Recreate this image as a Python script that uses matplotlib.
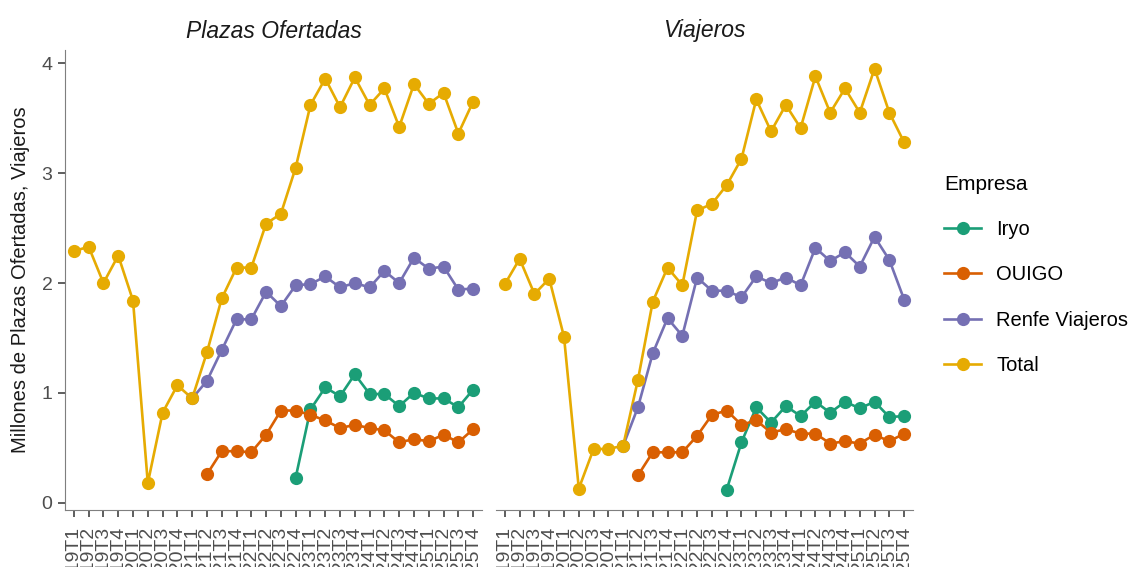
import matplotlib.pyplot as plt
from matplotlib.lines import Line2D
import numpy as np

plt.rcParams['font.family'] = ['Liberation Sans', 'DejaVu Sans']

# trimestres 2019T1 .. 2025T4
quarters = [f"{y}T{q}" for y in range(2019, 2026) for q in range(1, 5)]
empresas = ['Iryo', 'OUIGO', 'Renfe Viajeros', 'Total']
colors = ['#1B9E77', '#D95F02', '#7570B3', '#E6AB02']
na = np.nan

# Millones de plazas ofertadas
iryo_plazas = [na] * 15 + [0.23, 0.85, 1.05, 0.97, 1.17, 0.99, 0.99, 0.88, 1.00, 0.95, 0.95, 0.87, 1.03]
ouigo_plazas = [na] * 9 + [0.26, 0.47, 0.47, 0.46, 0.62, 0.84, 0.84, 0.80, 0.75, 0.68, 0.71, 0.68, 0.66,
                           0.55, 0.58, 0.56, 0.62, 0.55, 0.67]
renfe_plazas = [na] * 8 + [0.95, 1.11, 1.39, 1.67, 1.67, 1.92, 1.79, 1.98, 1.99, 2.06, 1.96, 2.00, 1.96,
                           2.11, 2.00, 2.23, 2.13, 2.15, 1.94, 1.95]
total_plazas = [2.29, 2.33, 2.00, 2.25, 1.84, 0.18, 0.82, 1.07, 0.95, 1.37, 1.86, 2.14, 2.14, 2.54,
                2.63, 3.05, 3.62, 3.86, 3.60, 3.87, 3.62, 3.77, 3.42, 3.81, 3.63, 3.73, 3.36, 3.65]

# Millones de viajeros
iryo_viaj = [na] * 15 + [0.12, 0.55, 0.87, 0.73, 0.88, 0.79, 0.92, 0.82, 0.92, 0.86, 0.92, 0.78, 0.79]
ouigo_viaj = [na] * 9 + [0.25, 0.46, 0.46, 0.46, 0.61, 0.80, 0.84, 0.71, 0.75, 0.64, 0.67, 0.63, 0.63,
                         0.54, 0.56, 0.54, 0.62, 0.56, 0.63]
renfe_viaj = [na] * 8 + [0.52, 0.87, 1.36, 1.68, 1.52, 2.05, 1.93, 1.93, 1.87, 2.06, 2.00, 2.05, 1.98,
                         2.32, 2.20, 2.28, 2.15, 2.42, 2.21, 1.85]
total_viaj = [1.99, 2.22, 1.90, 2.04, 1.51, 0.13, 0.49, 0.49, 0.52, 1.12, 1.83, 2.14, 1.98, 2.66,
              2.72, 2.89, 3.13, 3.67, 3.38, 3.62, 3.41, 3.88, 3.55, 3.77, 3.55, 3.95, 3.55, 3.28]

panels = [
    ('Plazas Ofertadas', [iryo_plazas, ouigo_plazas, renfe_plazas, total_plazas]),
    ('Viajeros', [iryo_viaj, ouigo_viaj, renfe_viaj, total_viaj]),
]

W, H = 1139, 567
fig = plt.figure(figsize=(W / 100, H / 100), dpi=100)
axes = [fig.add_axes([65 / W, 1 - 510 / H, 417 / W, 460 / H]),
        fig.add_axes([496 / W, 1 - 510 / H, 417 / W, 460 / H])]

x = np.arange(len(quarters))
for i, (ax, (title, series)) in enumerate(zip(axes, panels)):
    # lineas primero, puntos encima (como ggplot)
    for vals, color in zip(series, colors):
        ax.plot(x, vals, color=color, lw=1.9, zorder=2, solid_capstyle='round')
    for vals, color in zip(series, colors):
        ax.plot(x, vals, 'o', color=color, ms=9.5, zorder=3, mec='none')
    ax.set_xlim(-0.6, len(quarters) - 0.4)
    ax.set_ylim(-0.065, 4.12)
    ax.set_title(title, fontstyle='italic', fontsize=16.5, color='#1A1A1A', pad=9)
    ax.set_xticks(x)
    ax.set_xticklabels(quarters, rotation=90, fontsize=14, color='#4D4D4D')
    for s in ['top', 'right']:
        ax.spines[s].set_visible(False)
    ax.spines['bottom'].set_color('#7F7F7F')
    ax.spines['left'].set_color('#7F7F7F')
    ax.tick_params(axis='x', length=5, width=1.1, color='#333333', pad=7)
    ax.tick_params(axis='y', length=5, width=1.1, color='#333333', pad=4)
    if i == 0:
        ax.set_yticks([0, 1, 2, 3, 4])
        ax.set_yticklabels(['0', '1', '2', '3', '4'], fontsize=14, color='#4D4D4D')
        ax.set_ylabel('Millones de Plazas Ofertadas, Viajeros', fontsize=14.5, color='#1A1A1A', labelpad=8)
    else:
        ax.spines['left'].set_visible(False)
        ax.set_yticks([])

handles = [Line2D([0], [0], color=c, lw=1.9, marker='o', ms=9.5, mec='none') for c in colors]
fig.legend(handles, empresas, title='Empresa', loc='upper left', bbox_to_anchor=(926 / W, 1 - 157 / H),
           frameon=False, fontsize=14.5, title_fontsize=15, handlelength=1.85, handletextpad=0.75,
           labelspacing=1.3, alignment='left')

fig.savefig('out.png', dpi=100)
